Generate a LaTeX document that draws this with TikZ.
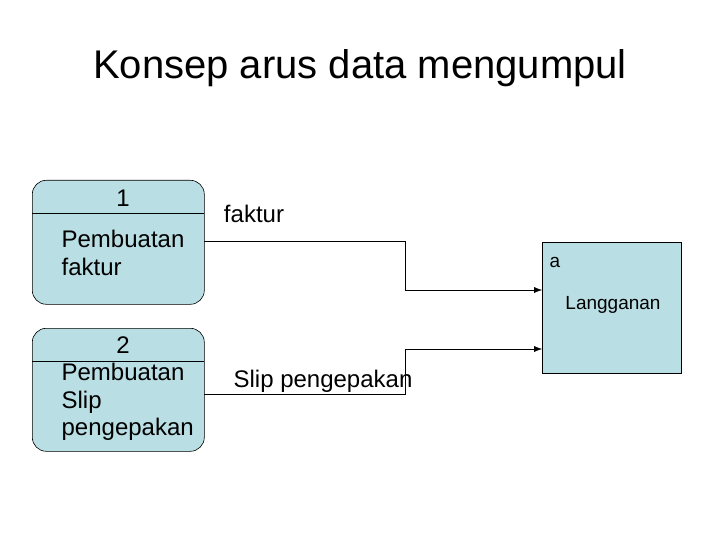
\documentclass[tikz,border=0pt]{standalone}
\usepackage{fontspec}
\setmainfont{Liberation Sans}
\usetikzlibrary{positioning}
\usetikzlibrary{arrows.meta}
\definecolor{boxblue}{RGB}{185,222,227}

\begin{document}
\begin{tikzpicture}[
            x = 1pt, y = -1pt,
            > = {Latex[length=8pt, width=6pt]}, % arrow head style
            semithick
        ]

        \tikzset{
            process/.style = {draw, fill = boxblue, rounded corners = 14pt,
                minimum width = 172pt, anchor = north west, inner sep = 0pt},
            store/.style = {draw, fill = boxblue, minimum width = 139pt,
                minimum height = 131pt, anchor = north west, inner sep = 0pt},
            flow/.style = {->, thin},
            txt/.style = {font = \fontsize{24}{27.5}\selectfont, align = left}
        }

        \useasboundingbox (0,0) rectangle (720,540);

        % title
        \node (title) at (360,68) {\fontsize{40}{46}\selectfont Konsep arus data mengumpul};

        % processes
        \node[process, minimum height = 124pt] (P1) at (32,180) {};
        \draw (32,213) -- (204,213);
        \node[txt] (N1) at (123,198) {1};
        \node[txt, anchor = west] (T1) at (58,253) {Pembuatan\\faktur};

        \node[process, minimum height = 123pt] (P2) at (32,328) {};
        \draw (32,361) -- (204,361);
        \node[txt] (N2) at (123,345) {2};
        \node[txt, anchor = west] (T2) at (58,402) {Pembuatan\\Slip\\pengepakan};

        % external entity
        \node[store] (E) at (542,242) {};
        \node[font = \fontsize{19}{22}\selectfont] (EA) at (555,262) {a};
        \node[font = \fontsize{19}{22}\selectfont] (EN) at (613,305) {Langganan};

        % flows
        \coordinate (F1a) at (204,241);
        \coordinate (F1b) at (405,241);
        \coordinate (F1c) at (405,290);
        \coordinate (F1d) at (542,290);
        \draw[flow] (F1a) -- (F1b) -- (F1c) -- (F1d);
        \node[txt] (L1) at (254,214) {faktur};

        \coordinate (F2a) at (204,394);
        \coordinate (F2b) at (405,394);
        \coordinate (F2c) at (405,349);
        \coordinate (F2d) at (542,349);
        \draw[flow] (F2a) -- (F2b) -- (F2c) -- (F2d);
        \node[txt] (L2) at (323,381) {Slip pengepakan};

\end{tikzpicture}
\end{document}
